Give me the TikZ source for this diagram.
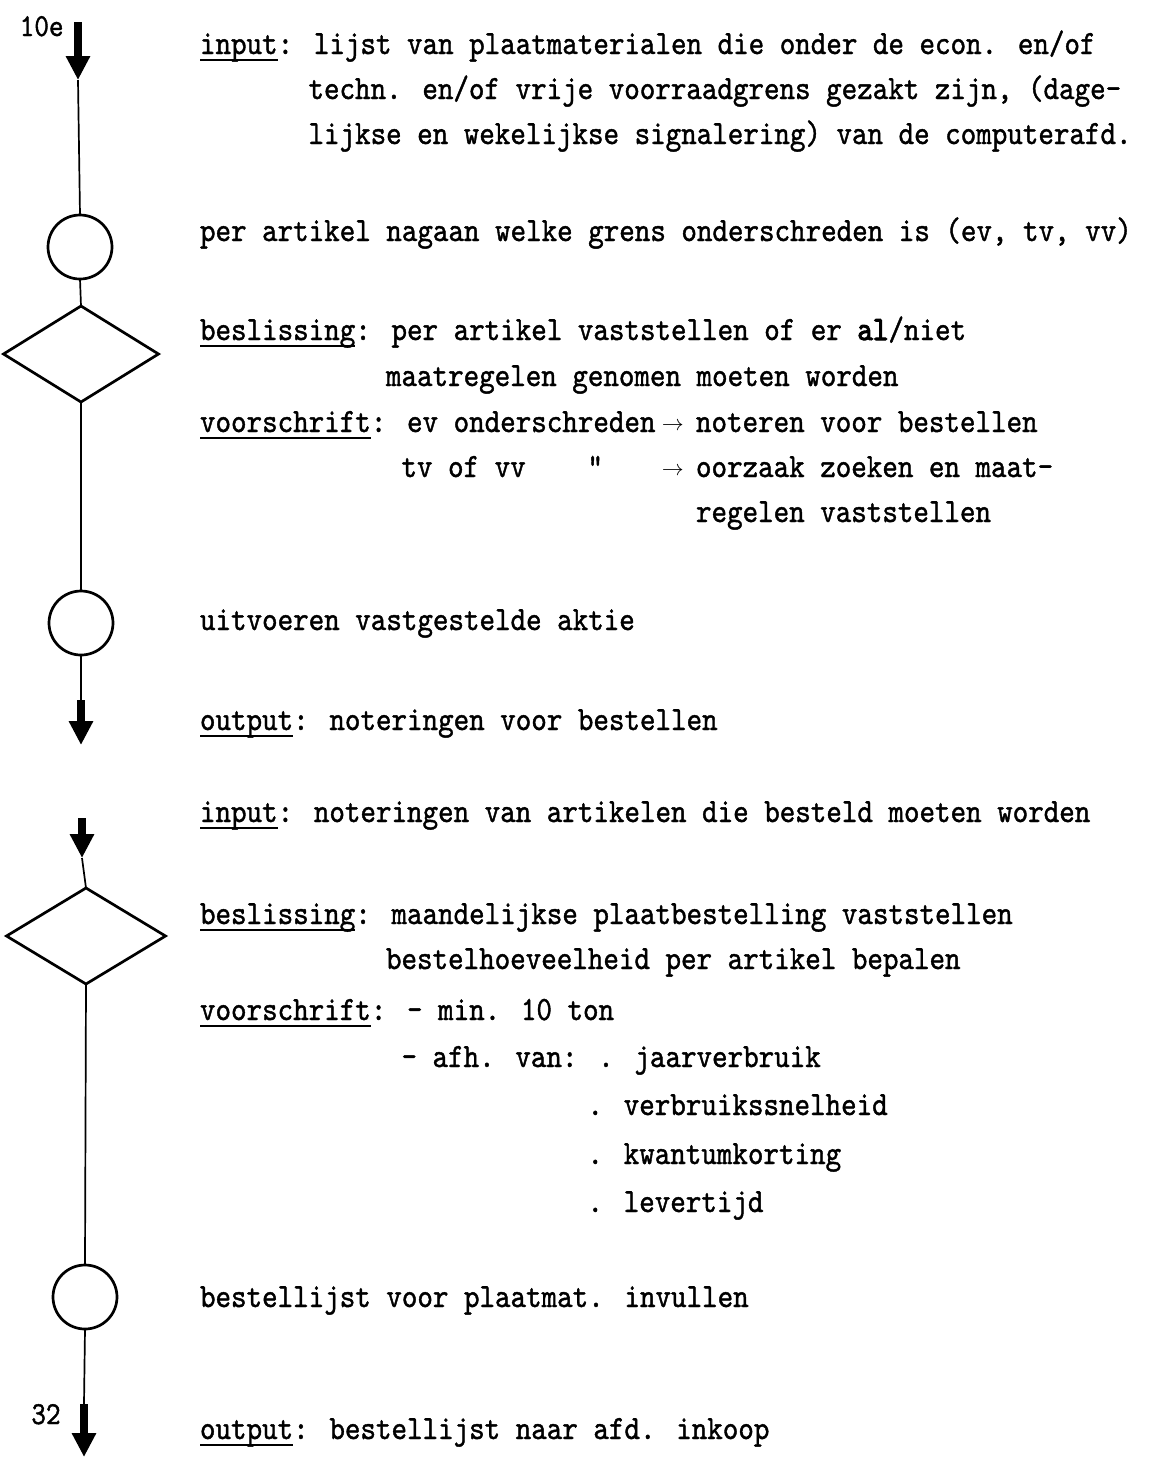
\documentclass[tikz,border=0pt]{standalone}
\usepackage{fontspec}
\usetikzlibrary{arrows.meta,shapes.geometric}
% typewriter face for all the lettering
\newfontfamily\tw{lmmono10-regular}[Extension=.otf,FakeStretch=0.87,FakeBold=1.2]
% underlined keyword with a fixed-depth rule
\newcommand\kw[1]{\setbox0\hbox{#1}\rlap{\rule[-3.6pt]{\wd0}{1.1pt}}\box0}
\newcommand\tarr{{\fontsize{11}{11}\selectfont$\rightarrow$}}
\tikzset{
  txt/.style={anchor=base west, inner sep=0pt, outer sep=0pt, font=\tw\fontsize{17}{20}\selectfont},
  tag/.style={anchor=base east, inner sep=0pt, font=\tw\fontsize{16}{18}\selectfont},
  circ/.style={draw, circle, line width=1.35pt, minimum size=32pt, inner sep=0pt, outer sep=0pt},
  dia/.style={draw, diamond, line width=1.35pt, inner sep=0pt, outer sep=0pt, minimum height=48pt},
  spine/.style={line width=0.85pt},
  fat/.style={line width=3.6pt, -{Triangle[width=11.5pt,length=12pt]}},
}
\begin{document}
\begin{tikzpicture}[x=0.5pt,y=-0.5pt]
\useasboundingbox (0,0) rectangle (1164,1458);
\fill[white] (0,0) rectangle (1164,1458);

% ---- flow line on the left ----
\coordinate (t0) at (78,22);
\coordinate (t1) at (78,80);
\node[circ] (c1) at (80,247) {};
\node[dia, minimum width=77.5pt] (d1) at (81,354) {};
\node[circ] (c2) at (81,623) {};
\coordinate (a2s) at (81,700);
\coordinate (a2t) at (81,745);
\coordinate (a3s) at (82,818);
\coordinate (a3t) at (82,858);
\node[dia, minimum width=79.5pt] (d2) at (86,936) {};
\node[circ] (c3) at (85,1297) {};
\coordinate (a4s) at (84,1404);
\coordinate (a4t) at (84,1457);

\draw[fat] (t0) -- (t1);
\draw[spine] (t1) -- (c1.north);
\draw[spine] (c1.south) -- (d1.north);
\draw[spine] (d1.south) -- (c2.north);
\draw[spine] (c2.south) -- (a2s);
\draw[fat] (a2s) -- (a2t);
\draw[fat] (a3s) -- (a3t);
\draw[spine] (a3t) -- (d2.north);
\draw[spine] (d2.south) -- (c3.north);
\draw[spine] (c3.south) -- (a4s);
\draw[fat] (a4s) -- (a4t);

\node[tag] (n10e) at (64,36) {10e};
\node[tag] (n32) at (61,1424) {32};

% ---- first part ----
\node[txt] (l1) at (200,54) {\kw{input}: lijst van plaatmaterialen die onder de econ. en/of};
\node[txt] (l2) at ({200+15.5*7},99) {techn. en/of vrije voorraadgrens gezakt zijn, (dage-};
\node[txt] (l3) at ({200+15.5*7},144) {lijkse en wekelijkse signalering) van de computerafd.};

\node[txt] (l4) at (200,241) {per artikel nagaan welke grens onderschreden is (ev, tv, vv)};

\node[txt] (l5) at (200,340) {\kw{beslissing}: per artikel vaststellen of er {\addfontfeature{FakeBold=3}al}/niet};
\node[txt] (l6) at ({200+15.5*12},386) {maatregelen genomen moeten worden};
\node[txt] (l7) at (200,432) {\kw{voorschrift}: ev onderschreden};
\node[txt, anchor=base] (r1) at ({200+15.5*30.5},430) {\tarr};
\node[txt] (l7b) at ({200+15.5*32},432) {noteren voor bestellen};
\node[txt] (l8) at ({200+15.5*13},477) {tv of vv};
\node[txt] (l8q) at ({200+15.5*25},477) {"};
\node[txt, anchor=base] (r2) at ({200+15.5*30.5},475) {\tarr};
\node[txt] (l8b) at ({200+15.5*32},477) {oorzaak zoeken en maat-};
\node[txt] (l9) at ({200+15.5*32},522) {regelen vaststellen};

\node[txt] (l10) at (200,630) {uitvoeren vastgestelde aktie};
\node[txt] (l11) at (200,730) {\kw{output}: noteringen voor bestellen};

% ---- second part ----
\node[txt] (m1) at (200,822) {\kw{input}: noteringen van artikelen die besteld moeten worden};
\node[txt] (m2) at (200,924) {\kw{beslissing}: maandelijkse plaatbestelling vaststellen};
\node[txt] (m3) at ({200+15.5*12},969) {bestelhoeveelheid per artikel bepalen};
\node[txt] (m4) at (200,1020) {\kw{voorschrift}: - min. 10 ton};
\node[txt] (m5) at ({200+15.5*13},1067) {- afh. van: . jaarverbruik};
\node[txt] (m6) at ({200+15.5*25},1115) {. verbruikssnelheid};
\node[txt] (m7) at ({200+15.5*25},1164) {. kwantumkorting};
\node[txt] (m8) at ({200+15.5*25},1212) {. levertijd};

\node[txt] (m9) at (200,1307) {bestellijst voor plaatmat. invullen};
\node[txt] (m10) at (200,1439) {\kw{output}: bestellijst naar afd. inkoop};
\end{tikzpicture}
\end{document}
